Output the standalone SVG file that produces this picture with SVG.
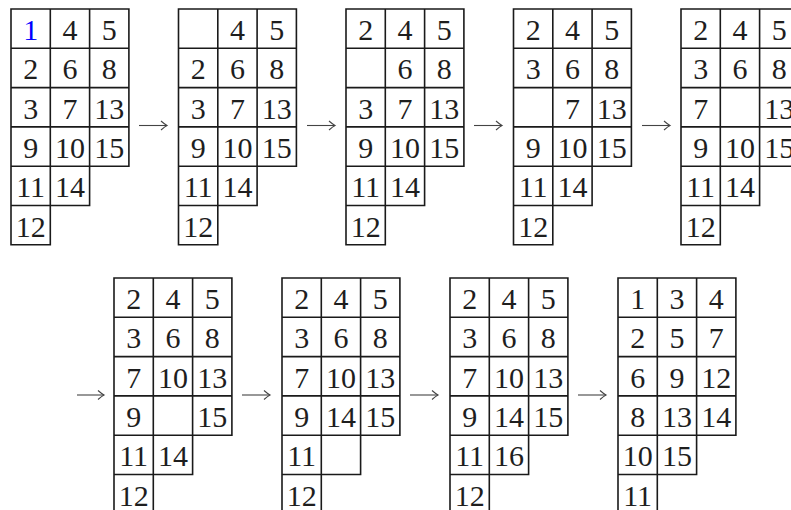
<svg xmlns="http://www.w3.org/2000/svg" xmlns:xlink="http://www.w3.org/1999/xlink" width="791" height="510" viewBox="0 0 791 510">
<style>
.grid{fill:none;stroke:#1a1a1a;stroke-width:1.6;stroke-linecap:square}
text{font-family:'Liberation Serif','DejaVu Serif','Times New Roman',Times,serif;font-size:30px;text-anchor:middle;fill:#1e1e1e}
.blue{fill:#0000ff}
.arr{stroke:#444;stroke-width:1.1;fill:none}
</style>
<defs>
<path id="g" class="grid" d="M0 0H117.9M0 39.3H117.9M0 78.6H117.9M0 117.9H117.9M0 157.2H117.9M0 196.5H78.6M0 235.8H39.3M0 0V235.8M39.3 0V235.8M78.6 0V196.5M117.9 0V157.2"/>
<marker id="ah" markerUnits="userSpaceOnUse" markerWidth="10" markerHeight="12" refX="8" refY="6" orient="auto" overflow="visible">
<path d="M2 1.5Q6 5 8 6Q6 7 2 10.5" stroke="#444" stroke-width="1.1" fill="none"/>
</marker>
</defs>
<g id="t1" transform="translate(11,9)">
<use xlink:href="#g"/>
<text class="blue" x="19.65" y="31">1</text><text x="58.95" y="31">4</text><text x="98.25" y="31">5</text>
<text x="19.65" y="70.3">2</text><text x="58.95" y="70.3">6</text><text x="98.25" y="70.3">8</text>
<text x="19.65" y="109.6">3</text><text x="58.95" y="109.6">7</text><text x="98.25" y="109.6">13</text>
<text x="19.65" y="148.9">9</text><text x="58.95" y="148.9">10</text><text x="98.25" y="148.9">15</text>
<text x="19.65" y="188.2">11</text><text x="58.95" y="188.2">14</text>
<text x="19.65" y="227.5">12</text>
</g>
<g id="t2" transform="translate(178.5,9)">
<use xlink:href="#g"/>
<text x="58.95" y="31">4</text><text x="98.25" y="31">5</text>
<text x="19.65" y="70.3">2</text><text x="58.95" y="70.3">6</text><text x="98.25" y="70.3">8</text>
<text x="19.65" y="109.6">3</text><text x="58.95" y="109.6">7</text><text x="98.25" y="109.6">13</text>
<text x="19.65" y="148.9">9</text><text x="58.95" y="148.9">10</text><text x="98.25" y="148.9">15</text>
<text x="19.65" y="188.2">11</text><text x="58.95" y="188.2">14</text>
<text x="19.65" y="227.5">12</text>
</g>
<g id="t3" transform="translate(346,9)">
<use xlink:href="#g"/>
<text x="19.65" y="31">2</text><text x="58.95" y="31">4</text><text x="98.25" y="31">5</text>
<text x="58.95" y="70.3">6</text><text x="98.25" y="70.3">8</text>
<text x="19.65" y="109.6">3</text><text x="58.95" y="109.6">7</text><text x="98.25" y="109.6">13</text>
<text x="19.65" y="148.9">9</text><text x="58.95" y="148.9">10</text><text x="98.25" y="148.9">15</text>
<text x="19.65" y="188.2">11</text><text x="58.95" y="188.2">14</text>
<text x="19.65" y="227.5">12</text>
</g>
<g id="t4" transform="translate(513.5,9)">
<use xlink:href="#g"/>
<text x="19.65" y="31">2</text><text x="58.95" y="31">4</text><text x="98.25" y="31">5</text>
<text x="19.65" y="70.3">3</text><text x="58.95" y="70.3">6</text><text x="98.25" y="70.3">8</text>
<text x="58.95" y="109.6">7</text><text x="98.25" y="109.6">13</text>
<text x="19.65" y="148.9">9</text><text x="58.95" y="148.9">10</text><text x="98.25" y="148.9">15</text>
<text x="19.65" y="188.2">11</text><text x="58.95" y="188.2">14</text>
<text x="19.65" y="227.5">12</text>
</g>
<g id="t5" transform="translate(681,9)">
<use xlink:href="#g"/>
<text x="19.65" y="31">2</text><text x="58.95" y="31">4</text><text x="98.25" y="31">5</text>
<text x="19.65" y="70.3">3</text><text x="58.95" y="70.3">6</text><text x="98.25" y="70.3">8</text>
<text x="19.65" y="109.6">7</text><text x="98.25" y="109.6">13</text>
<text x="19.65" y="148.9">9</text><text x="58.95" y="148.9">10</text><text x="98.25" y="148.9">15</text>
<text x="19.65" y="188.2">11</text><text x="58.95" y="188.2">14</text>
<text x="19.65" y="227.5">12</text>
</g>
<g id="b1" transform="translate(114,278)">
<use xlink:href="#g"/>
<text x="19.65" y="31">2</text><text x="58.95" y="31">4</text><text x="98.25" y="31">5</text>
<text x="19.65" y="70.3">3</text><text x="58.95" y="70.3">6</text><text x="98.25" y="70.3">8</text>
<text x="19.65" y="109.6">7</text><text x="58.95" y="109.6">10</text><text x="98.25" y="109.6">13</text>
<text x="19.65" y="148.9">9</text><text x="98.25" y="148.9">15</text>
<text x="19.65" y="188.2">11</text><text x="58.95" y="188.2">14</text>
<text x="19.65" y="227.5">12</text>
</g>
<g id="b2" transform="translate(282,278)">
<use xlink:href="#g"/>
<text x="19.65" y="31">2</text><text x="58.95" y="31">4</text><text x="98.25" y="31">5</text>
<text x="19.65" y="70.3">3</text><text x="58.95" y="70.3">6</text><text x="98.25" y="70.3">8</text>
<text x="19.65" y="109.6">7</text><text x="58.95" y="109.6">10</text><text x="98.25" y="109.6">13</text>
<text x="19.65" y="148.9">9</text><text x="58.95" y="148.9">14</text><text x="98.25" y="148.9">15</text>
<text x="19.65" y="188.2">11</text>
<text x="19.65" y="227.5">12</text>
</g>
<g id="b3" transform="translate(450,278)">
<use xlink:href="#g"/>
<text x="19.65" y="31">2</text><text x="58.95" y="31">4</text><text x="98.25" y="31">5</text>
<text x="19.65" y="70.3">3</text><text x="58.95" y="70.3">6</text><text x="98.25" y="70.3">8</text>
<text x="19.65" y="109.6">7</text><text x="58.95" y="109.6">10</text><text x="98.25" y="109.6">13</text>
<text x="19.65" y="148.9">9</text><text x="58.95" y="148.9">14</text><text x="98.25" y="148.9">15</text>
<text x="19.65" y="188.2">11</text><text x="58.95" y="188.2">16</text>
<text x="19.65" y="227.5">12</text>
</g>
<g id="b4" transform="translate(618,278)">
<use xlink:href="#g"/>
<text x="19.65" y="31">1</text><text x="58.95" y="31">3</text><text x="98.25" y="31">4</text>
<text x="19.65" y="70.3">2</text><text x="58.95" y="70.3">5</text><text x="98.25" y="70.3">7</text>
<text x="19.65" y="109.6">6</text><text x="58.95" y="109.6">9</text><text x="98.25" y="109.6">12</text>
<text x="19.65" y="148.9">8</text><text x="58.95" y="148.9">13</text><text x="98.25" y="148.9">14</text>
<text x="19.65" y="188.2">10</text><text x="58.95" y="188.2">15</text>
<text x="19.65" y="227.5">11</text>
</g>
<g id="connectors" class="arr">
<line x1="139" y1="125.5" x2="167" y2="125.5" marker-end="url(#ah)"/>
<line x1="307" y1="125.5" x2="335" y2="125.5" marker-end="url(#ah)"/>
<line x1="474" y1="125.5" x2="502" y2="125.5" marker-end="url(#ah)"/>
<line x1="642" y1="125.5" x2="670" y2="125.5" marker-end="url(#ah)"/>
<line x1="77" y1="395" x2="104" y2="395" marker-end="url(#ah)"/>
<line x1="242" y1="395" x2="270" y2="395" marker-end="url(#ah)"/>
<line x1="410" y1="395" x2="438" y2="395" marker-end="url(#ah)"/>
<line x1="578" y1="395" x2="606" y2="395" marker-end="url(#ah)"/>
</g>
</svg>
